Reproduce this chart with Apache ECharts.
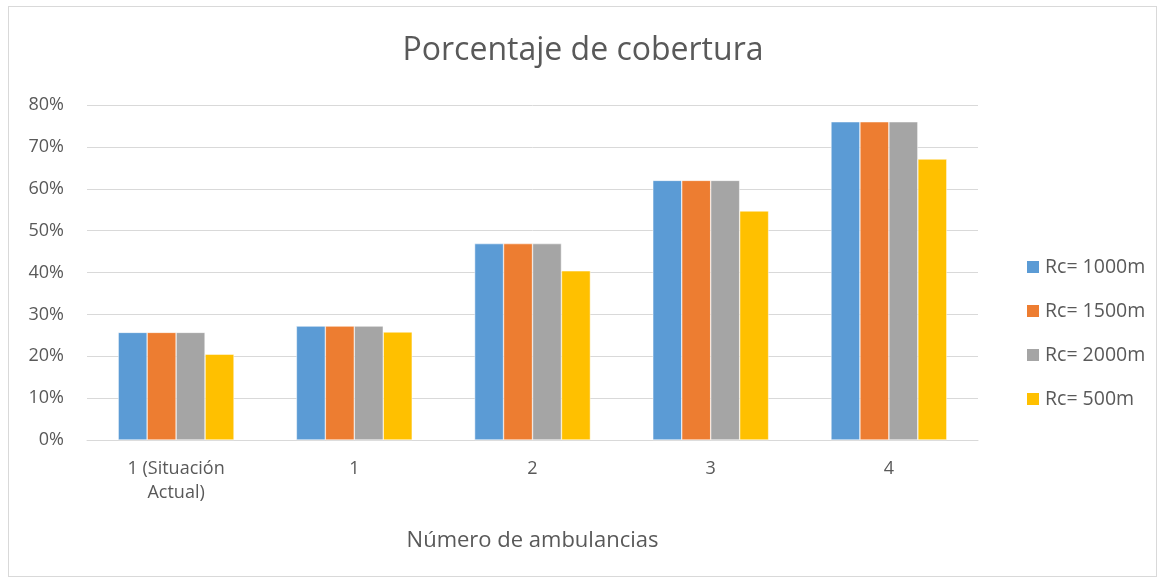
<!DOCTYPE html>
<html>
<head>
<meta charset="utf-8">
<script src="https://cdn.jsdelivr.net/npm/echarts@6/dist/echarts.min.js"></script>
<style>
  html, body { margin: 0; padding: 0; background: #fff; }
  #frame { position: absolute; left: 8px; top: 6px; width: 1149px; height: 571px; border: 1px solid #d9d9d9; box-sizing: border-box; }
  #chart { position: absolute; left: 0; top: 0; width: 1166px; height: 584px; }
</style>
</head>
<body>
<div id="frame"></div>
<div id="chart"></div>
<script>
// Coverage percentage by number of ambulances, for each coverage radius
const categories = ['1 (Situación\nActual)', '1', '2', '3', '4'];
const seriesNames = ['Rc= 1000m', 'Rc= 1500m', 'Rc= 2000m', 'Rc= 500m'];
const rc1000 = [25.7, 27.2, 46.9, 62.0, 76.0];
const rc1500 = [25.7, 27.2, 46.9, 62.0, 76.0];
const rc2000 = [25.7, 27.2, 46.9, 62.0, 76.0];
const rc500 = [20.5, 25.8, 40.4, 54.7, 67.1];
const colors = ['#5B9BD5', '#ED7D31', '#A5A5A5', '#FFC000'];

const font = '"Open Sans", sans-serif';
const chart = echarts.init(document.getElementById('chart'));

const seriesData = [rc1000, rc1500, rc2000, rc500];
chart.setOption({
  animation: false,
  color: colors,
  title: {
    text: 'Porcentaje de cobertura',
    left: 'center',
    top: 30,
    textStyle: { fontFamily: font, fontSize: 32, fontWeight: 'normal', color: '#595959' }
  },
  legend: {
    orient: 'vertical',
    left: 1020,
    top: 252,
    itemWidth: 14,
    itemHeight: 14,
    itemGap: 24,
    icon: 'rect',
    textStyle: { fontFamily: font, fontSize: 19.5, color: '#595959', padding: [0, 0, 0, 0] },
    data: seriesNames
  },
  grid: { left: 87, right: 188, top: 105, bottom: 144 },
  xAxis: {
    type: 'category',
    data: categories,
    name: 'Número de ambulancias',
    nameLocation: 'middle',
    nameGap: 90,
    nameTextStyle: { fontFamily: font, fontSize: 22, color: '#595959' },
    axisLine: { lineStyle: { color: '#d9d9d9', width: 1 } },
    axisTick: { show: false },
    axisLabel: { fontFamily: font, fontSize: 18, color: '#595959', margin: 17, lineHeight: 24 }
  },
  yAxis: {
    type: 'value',
    min: 0,
    max: 80,
    interval: 10,
    axisLine: { show: false },
    axisTick: { show: false },
    splitLine: { lineStyle: { color: '#d9d9d9', width: 1 } },
    axisLabel: { fontFamily: font, fontSize: 18, color: '#595959', margin: 23, formatter: '{value}%' }
  },
  series: seriesNames.map((name, i) => ({
    name,
    type: 'bar',
    data: seriesData[i],
    barGap: '0%',
    barCategoryGap: '35%',
    itemStyle: { color: colors[i], borderColor: '#ffffff', borderWidth: 0.5 }
  }))
});
</script>
</body>
</html>
